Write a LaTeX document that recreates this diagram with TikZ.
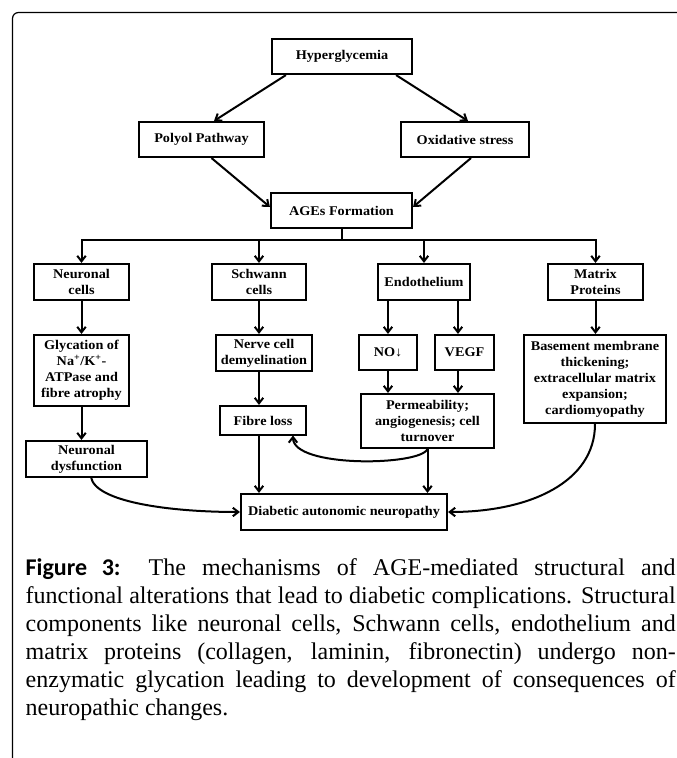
\documentclass[tikz,border=0pt]{standalone}
\usepackage{fontspec}
\setmainfont{Liberation Serif}
\newfontfamily\boxfont[FakeStretch=1.07]{Liberation Serif}
\newfontfamily\figfont{Carlito}
\usetikzlibrary{arrows.meta,calc}
\begin{document}
\begin{tikzpicture}[x=1pt,y=-1pt,
  box/.style={draw, line width=2.1pt, inner sep=0pt, align=center,
    font=\boxfont\bfseries\fontsize{13.3}{16}\selectfont},
  conn/.style={line width=2pt, -{Straight Barb[length=5.5pt,width=8.5pt]}},
  plain/.style={line width=2pt, line cap=rect},
  captxt/.style={anchor=base west, inner sep=0pt, font=\fontsize{24}{28}\selectfont}
]
\useasboundingbox (0,0) rectangle (677,758);

% outer frame
\draw[line width=1.2pt, rounded corners=6pt] (12.5,765) -- (12.5,12.5) -- (690,12.5);

% nodes
\node[box, minimum width=140pt, minimum height=35pt] (hyp) at (342,56.5) {Hyperglycemia};
\node[box, minimum width=125pt, minimum height=35pt] (pol) at (201.5,139.5) {Polyol Pathway};
\node[box, minimum width=128pt, minimum height=35pt] (oxi) at (465,139.5) {Oxidative stress};
\node[box, minimum width=141pt, minimum height=35pt] (age) at (341.5,210.5) {AGEs Formation};

\node[box, minimum width=95pt, minimum height=36pt] (neu) at (81.5,282) {Neuronal\\cells};
\node[box, minimum width=94pt, minimum height=36pt] (sch) at (259,282) {Schwann\\cells};
\node[box, minimum width=92pt, minimum height=36pt] (endo) at (424,282) {Endothelium};
\node[box, minimum width=95pt, minimum height=36pt] (mat) at (595.5,282) {Matrix\\Proteins};

\node[box, minimum width=95pt, minimum height=71pt] (gly) at (81.5,370.5)
  {Glycation of\\Na\textsuperscript{+}/K\textsuperscript{+}-\\ATPase and\\fibre atrophy};
\node[box, minimum width=96pt, minimum height=36pt] (ner) at (264,353) {Nerve cell\\demyelination};
\node[box, minimum width=86pt, minimum height=29pt] (fib) at (263,420.5) {Fibre loss};
\node[box, minimum width=121pt, minimum height=36pt] (dys) at (86.5,459) {Neuronal\\dysfunction};

\node[box, minimum width=58pt, minimum height=35pt] (no) at (388,352.5) {NO{\mdseries↓}};
\node[box, minimum width=59pt, minimum height=35pt] (vegf) at (464.5,352.5) {VEGF};
\node[box, minimum width=133pt, minimum height=54pt] (perm) at (427.5,421)
  {Permeability;\\angiogenesis; cell\\turnover};
\node[box, minimum width=142pt, minimum height=88pt] (base) at (595,379)
  {Basement membrane\\thickening;\\extracellular matrix\\expansion;\\cardiomyopathy};

\node[box, minimum width=206pt, minimum height=36pt] (dia) at (344,512) {Diabetic autonomic neuropathy};

% top connectors
\draw[conn] ($(hyp.south west)+(15,0)$) -- ($(pol.north)+(12.5,0)$);
\draw[conn] ($(hyp.south east)+(-17,0)$) -- ($(oxi.north)+(3,0)$);
\draw[conn] ($(pol.south)+(10,0)$) -- ($(age.west)+(0,-3.5)$);
\draw[conn] ($(oxi.south)+(6,0)$) -- ($(age.east)+(0,-3.5)$);

% bus
\coordinate (busc) at (341.5,240);
\coordinate (bl) at (81.5,240);
\coordinate (br) at (595.5,240);
\draw[plain] (age.south) -- (busc);
\draw[plain] (bl) -- (br);
\draw[conn] (bl) -- (neu.north);
\draw[conn] (sch.north |- busc) -- (sch.north);
\draw[conn] (endo.north |- busc) -- (endo.north);
\draw[conn] (br) -- (mat.north);

% columns
\draw[conn] (neu.south) -- (gly.north);
\draw[conn] (gly.south) -- (gly.south |- dys.north);

\draw[conn] (sch.south) -- (sch.south |- ner.north);
\draw[conn] (sch.south |- ner.south) -- (sch.south |- fib.north);
\draw[conn] (sch.south |- fib.south) -- (sch.south |- dia.north);

\coordinate (ea) at (388,300);
\coordinate (eb) at (458,300);
\draw[conn] (ea |- endo.south) -- (ea |- no.north);
\draw[conn] (eb |- endo.south) -- (eb |- vegf.north);
\draw[conn] (ea |- no.south) -- (ea |- perm.north);
\draw[conn] (eb |- vegf.south) -- (eb |- perm.north);

\draw[conn] (mat.south) -- (mat.south |- base.north);

\draw[conn] (perm.south) -- (perm.south |- dia.north);

% curved connectors
\coordinate (fibin) at (293,435.5);
\draw[conn] (perm.south) .. controls (420,466) and (293,468) .. (fibin);
\coordinate (dysout) at (91,477);
\draw[conn] (dysout) .. controls (95,502) and (170,512) .. (dia.west);
\draw[conn] (base.south) .. controls (595,482) and (530,512) .. (dia.east);

% caption
\node[captxt] (cap1) at (25.5,575) {\makebox[650pt][s]{{\figfont\bfseries Figure 3:} The mechanisms of AGE-mediated structural and}};
\node[captxt] (cap2) at (25.5,603) {\makebox[650pt][s]{functional alterations that lead to diabetic complications. Structural}};
\node[captxt] (cap3) at (25.5,631) {\makebox[650pt][s]{components like neuronal cells, Schwann cells, endothelium and}};
\node[captxt] (cap4) at (25.5,659) {\makebox[650pt][s]{matrix proteins (collagen, laminin, fibronectin) undergo non-}};
\node[captxt] (cap5) at (25.5,687) {\makebox[650pt][s]{enzymatic glycation leading to development of consequences of}};
\node[captxt] (cap6) at (25.5,715) {neuropathic changes.};
\end{tikzpicture}
\end{document}
